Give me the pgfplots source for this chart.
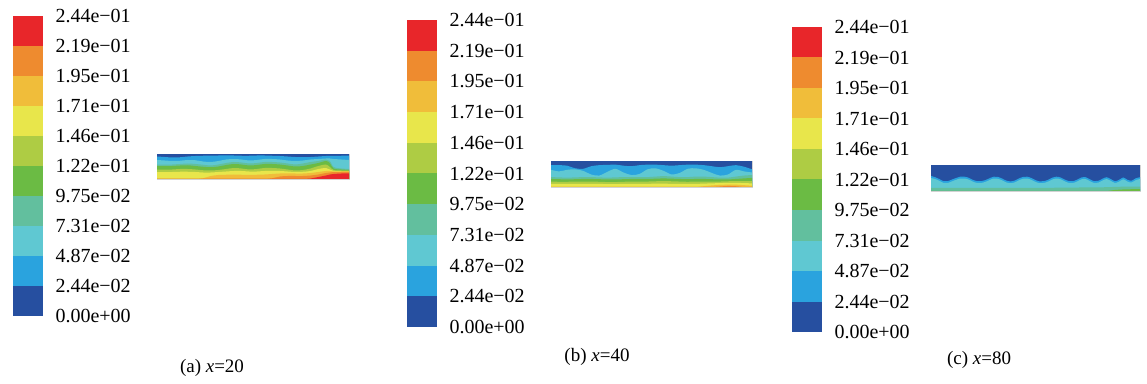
\documentclass[border=0pt]{standalone}
\usepackage{pgfplots}
\pgfplotsset{compat=1.18}
\usepackage{pgfplotstable}
\usepackage{fontspec}
\setmainfont{Liberation Serif}

\definecolor{c1}{RGB}{38,79,160}
\definecolor{c2}{RGB}{42,163,222}
\definecolor{c3}{RGB}{95,200,210}
\definecolor{c4}{RGB}{98,191,158}
\definecolor{c5}{RGB}{107,187,68}
\definecolor{c6}{RGB}{174,204,68}
\definecolor{c7}{RGB}{232,230,75}
\definecolor{c8}{RGB}{240,189,58}
\definecolor{c9}{RGB}{238,139,47}
\definecolor{c10}{RGB}{232,38,42}

% strip (a) x=20: band boundaries (normalised height)
\pgfplotstableread{
x b1 b2 b3 b4 b5 b6 b7 b8 b9
0 0.90 0.76 0.58 0.52 0.38 0.28 0 0 0
4 0.88 0.74 0.57 0.51 0.37 0.27 0 0 0
8 0.86 0.72 0.58 0.52 0.38 0.28 0 0 0
12 0.87 0.73 0.60 0.54 0.40 0.29 0 0 0
16 0.90 0.76 0.62 0.55 0.40 0.29 0 0 0
20 0.92 0.75 0.60 0.52 0.38 0.28 0 0 0
24 0.93 0.70 0.57 0.49 0.35 0.26 0.03 0 0
28 0.93 0.68 0.54 0.47 0.34 0.26 0.12 0 0
32 0.94 0.72 0.58 0.50 0.36 0.28 0.16 0 0
36 0.94 0.78 0.64 0.56 0.40 0.30 0.17 0 0
40 0.94 0.80 0.68 0.60 0.44 0.32 0.18 0 0
44 0.93 0.78 0.66 0.58 0.42 0.32 0.17 0 0
48 0.93 0.74 0.62 0.54 0.38 0.30 0.16 0 0
52 0.94 0.76 0.64 0.56 0.40 0.30 0.17 0 0
56 0.94 0.80 0.68 0.60 0.44 0.32 0.18 0 0
60 0.93 0.80 0.68 0.60 0.44 0.32 0.20 0.03 0
64 0.92 0.78 0.66 0.58 0.42 0.32 0.22 0.10 0
68 0.90 0.74 0.62 0.54 0.38 0.30 0.22 0.12 0
72 0.88 0.72 0.58 0.50 0.34 0.28 0.22 0.12 0
76 0.87 0.74 0.62 0.52 0.36 0.29 0.22 0.12 0
80 0.88 0.78 0.68 0.58 0.42 0.32 0.24 0.14 0.02
84 0.90 0.80 0.72 0.64 0.52 0.40 0.28 0.18 0.08
88 0.92 0.82 0.78 0.72 0.58 0.44 0.32 0.24 0.14
90 0.92 0.82 0.72 0.64 0.48 0.38 0.32 0.26 0.18
92 0.92 0.80 0.48 0.42 0.36 0.32 0.30 0.28 0.20
96 0.93 0.78 0.42 0.38 0.34 0.31 0.30 0.28 0.22
100 0.93 0.76 0.40 0.36 0.33 0.31 0.30 0.28 0.22
}\stripA

% strip (b) x=40
\pgfplotstableread{
x b1 b2 b3 b4 b5 b6 b7 b8
0 0.84 0.66 0.38 0.31 0.21 0.12 0 0
4 0.84 0.60 0.37 0.30 0.20 0.12 0 0
8 0.82 0.66 0.36 0.29 0.20 0.12 0 0
12 0.72 0.68 0.37 0.30 0.21 0.12 0 0
16 0.70 0.62 0.38 0.31 0.21 0.12 0 0
20 0.80 0.48 0.38 0.31 0.21 0.12 0 0
24 0.84 0.44 0.37 0.30 0.20 0.12 0 0
28 0.85 0.58 0.36 0.29 0.19 0.11 0 0
32 0.86 0.70 0.37 0.29 0.19 0.11 0 0
36 0.82 0.56 0.38 0.30 0.20 0.12 0 0
40 0.80 0.46 0.38 0.31 0.21 0.12 0 0
44 0.84 0.50 0.38 0.31 0.21 0.12 0 0
48 0.86 0.68 0.38 0.31 0.21 0.12 0 0
52 0.86 0.72 0.40 0.32 0.22 0.13 0 0
56 0.84 0.62 0.42 0.33 0.23 0.13 0 0
60 0.82 0.48 0.40 0.32 0.22 0.12 0 0
64 0.84 0.54 0.38 0.31 0.21 0.12 0 0
68 0.86 0.70 0.38 0.30 0.20 0.12 0 0
72 0.86 0.72 0.40 0.31 0.21 0.12 0 0
76 0.84 0.66 0.40 0.31 0.21 0.13 0.03 0
80 0.80 0.54 0.38 0.30 0.21 0.14 0.06 0
84 0.76 0.44 0.36 0.29 0.21 0.15 0.08 0.02
88 0.80 0.48 0.36 0.29 0.22 0.16 0.09 0.04
92 0.84 0.66 0.40 0.31 0.23 0.16 0.09 0.03
96 0.78 0.60 0.44 0.33 0.23 0.15 0.07 0
100 0.68 0.56 0.46 0.35 0.23 0.14 0.05 0
}\stripB

% strip (c) x=80
\pgfplotstableread{
x b1 b2 b3 b4
0 0.58 0.50 0.12 0
2 0.53 0.46 0.12 0
4 0.46 0.39 0.12 0
6 0.38 0.31 0.12 0
8 0.38 0.31 0.12 0
10 0.44 0.37 0.12 0
12 0.50 0.43 0.12 0
14 0.55 0.48 0.12 0
16 0.55 0.48 0.12 0
18 0.51 0.44 0.12 0
20 0.43 0.36 0.12 0
22 0.38 0.31 0.12 0
24 0.38 0.31 0.12 0
26 0.42 0.35 0.12 0
28 0.49 0.42 0.12 0
30 0.55 0.48 0.12 0
32 0.54 0.47 0.12 0
34 0.48 0.41 0.12 0
36 0.40 0.33 0.12 0
38 0.37 0.30 0.12 0
40 0.40 0.33 0.12 0
42 0.48 0.41 0.12 0
44 0.54 0.47 0.12 0
46 0.55 0.48 0.12 0
48 0.50 0.43 0.12 0
50 0.42 0.35 0.12 0
52 0.37 0.30 0.12 0
54 0.38 0.31 0.12 0
56 0.43 0.36 0.12 0
58 0.51 0.44 0.12 0
60 0.55 0.48 0.13 0
62 0.52 0.45 0.13 0
64 0.44 0.37 0.13 0
66 0.38 0.31 0.13 0
68 0.38 0.31 0.13 0
70 0.44 0.37 0.13 0
72 0.52 0.45 0.14 0
74 0.53 0.46 0.14 0
76 0.45 0.38 0.14 0
78 0.38 0.31 0.14 0
80 0.39 0.32 0.14 0
82 0.47 0.40 0.14 0
84 0.53 0.46 0.15 0
86 0.46 0.39 0.15 0.02
88 0.38 0.31 0.16 0.04
90 0.43 0.36 0.16 0.05
92 0.52 0.45 0.17 0.06
94 0.43 0.36 0.17 0.06
96 0.40 0.33 0.17 0.07
98 0.49 0.42 0.17 0.07
100 0.53 0.46 0.17 0.07
}\stripC

\newcommand{\cbfont}{\fontsize{20}{22}\selectfont}
\newcommand{\capfont}{\fontsize{19}{21}\selectfont}
\pgfplotsset{
  cbar/.style={
    scale only axis, width=30pt,
    xmin=0, xmax=1, ymin=0, ymax=10,
    axis line style={draw=none},
    xtick=\empty, ytick={0,1,...,10},
    yticklabels={0.00e+00,2.44e−02,4.87e−02,7.31e−02,9.75e−02,1.22e−01,1.46e−01,1.71e−01,1.95e−01,2.19e−01,2.44e−01},
    yticklabel pos=right, major tick length=0pt,
    yticklabel style={font=\cbfont, anchor=west, xshift=9pt},
    clip=false,
  },
  strip/.style={
    scale only axis, xmin=0, xmax=100, ymin=0, ymax=1,
    xtick=\empty, ytick=\empty,
    axis line style={gray!35, line width=0.5pt},
  },
}
\newcommand{\cblocks}{%
  \addplot[fill=c10, draw=none] coordinates {(0,10) (1,10)} \closedcycle;
  \addplot[fill=c9, draw=none] coordinates {(0,9) (1,9)} \closedcycle;
  \addplot[fill=c8, draw=none] coordinates {(0,8) (1,8)} \closedcycle;
  \addplot[fill=c7, draw=none] coordinates {(0,7) (1,7)} \closedcycle;
  \addplot[fill=c6, draw=none] coordinates {(0,6) (1,6)} \closedcycle;
  \addplot[fill=c5, draw=none] coordinates {(0,5) (1,5)} \closedcycle;
  \addplot[fill=c4, draw=none] coordinates {(0,4) (1,4)} \closedcycle;
  \addplot[fill=c3, draw=none] coordinates {(0,3) (1,3)} \closedcycle;
  \addplot[fill=c2, draw=none] coordinates {(0,2) (1,2)} \closedcycle;
  \addplot[fill=c1, draw=none] coordinates {(0,1) (1,1)} \closedcycle;
}

\begin{document}
\begin{tikzpicture}
\path[use as bounding box] (0pt,0pt) rectangle (1147pt,383pt);

% ---------- panel (a) ----------
\begin{axis}[cbar, at={(13pt,67pt)}, anchor=south west, height=300pt]
  \cblocks
\end{axis}
\begin{axis}[strip, at={(157pt,204pt)}, anchor=south west, width=192pt, height=25pt]
  \addplot[fill=c1, draw=none] coordinates {(0,1) (100,1)} \closedcycle;
  \addplot[fill=c2, draw=none, smooth] table[x=x, y=b1] {\stripA} \closedcycle;
  \addplot[fill=c3, draw=none, smooth] table[x=x, y=b2] {\stripA} \closedcycle;
  \addplot[fill=c4, draw=none, smooth] table[x=x, y=b3] {\stripA} \closedcycle;
  \addplot[fill=c5, draw=none, smooth] table[x=x, y=b4] {\stripA} \closedcycle;
  \addplot[fill=c6, draw=none, smooth] table[x=x, y=b5] {\stripA} \closedcycle;
  \addplot[fill=c7, draw=none, smooth] table[x=x, y=b6] {\stripA} \closedcycle;
  \addplot[fill=c8, draw=none, smooth] table[x=x, y=b7] {\stripA} \closedcycle;
  \addplot[fill=c9, draw=none, smooth] table[x=x, y=b8] {\stripA} \closedcycle;
  \addplot[fill=c10, draw=none, smooth] table[x=x, y=b9] {\stripA} \closedcycle;
\end{axis}
\node[font=\capfont] at (212pt,15pt) {(a) \textit{x}=20};

% ---------- panel (b) ----------
\begin{axis}[cbar, at={(407pt,56pt)}, anchor=south west, height=307pt]
  \cblocks
\end{axis}
\begin{axis}[strip, at={(551pt,196pt)}, anchor=south west, width=201pt, height=26pt]
  \addplot[fill=c1, draw=none] coordinates {(0,1) (100,1)} \closedcycle;
  \addplot[fill=c2, draw=none, smooth] table[x=x, y=b1] {\stripB} \closedcycle;
  \addplot[fill=c3, draw=none, smooth] table[x=x, y=b2] {\stripB} \closedcycle;
  \addplot[fill=c4, draw=none, smooth] table[x=x, y=b3] {\stripB} \closedcycle;
  \addplot[fill=c5, draw=none, smooth] table[x=x, y=b4] {\stripB} \closedcycle;
  \addplot[fill=c6, draw=none, smooth] table[x=x, y=b5] {\stripB} \closedcycle;
  \addplot[fill=c7, draw=none, smooth] table[x=x, y=b6] {\stripB} \closedcycle;
  \addplot[fill=c8, draw=none, smooth] table[x=x, y=b7] {\stripB} \closedcycle;
  \addplot[fill=c9, draw=none, smooth] table[x=x, y=b8] {\stripB} \closedcycle;
\end{axis}
\node[font=\capfont] at (597pt,26pt) {(b) \textit{x}=40};

% ---------- panel (c) ----------
\begin{axis}[cbar, at={(792pt,51pt)}, anchor=south west, height=305pt]
  \cblocks
\end{axis}
\begin{axis}[strip, at={(931pt,192pt)}, anchor=south west, width=209pt, height=26pt]
  \addplot[fill=c1, draw=none] coordinates {(0,1) (100,1)} \closedcycle;
  \addplot[fill=c2, draw=none, smooth] table[x=x, y=b1] {\stripC} \closedcycle;
  \addplot[fill=c3, draw=none, smooth] table[x=x, y=b2] {\stripC} \closedcycle;
  \addplot[fill=c4, draw=none, smooth] table[x=x, y=b3] {\stripC} \closedcycle;
  \addplot[fill=c5, draw=none, smooth] table[x=x, y=b4] {\stripC} \closedcycle;
\end{axis}
\node[font=\capfont] at (979pt,23pt) {(c) \textit{x}=80};
\end{tikzpicture}
\end{document}
